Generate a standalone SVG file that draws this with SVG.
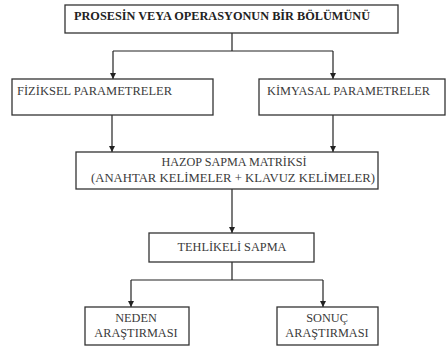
<svg xmlns="http://www.w3.org/2000/svg" width="446" height="347" viewBox="0 0 446 347">
  <defs>
    <marker id="arrow" viewBox="0 0 8 8" refX="8" refY="4" markerWidth="6" markerHeight="6" markerUnits="userSpaceOnUse" orient="auto">
      <path d="M0,0 L8,4 L0,8 z" fill="#222"/>
    </marker>
    <style>
      .box { fill: #fff; stroke: #333; stroke-width: 1.3; }
      text { font-family: 'Liberation Serif', serif; font-size: 12.3px; fill: #3a3a3a; }
      .bold { font-weight: bold; fill: #222; }
      .mid { text-anchor: middle; }
      .wire { fill: none; stroke: #222; stroke-width: 1.2; }
    </style>
  </defs>
  <rect width="446" height="347" fill="#fff"/>

  <g id="connectors">
    <path class="wire" d="M232,33 V51 M113,51 H333"/>
    <path class="wire" d="M113,51 V79" marker-end="url(#arrow)"/>
    <path class="wire" d="M333,51 V79" marker-end="url(#arrow)"/>
    <path class="wire" d="M112,115 V152" marker-end="url(#arrow)"/>
    <path class="wire" d="M333,115 V152" marker-end="url(#arrow)"/>
    <path class="wire" d="M232,189 V233" marker-end="url(#arrow)"/>
    <path class="wire" d="M232,262 V280 M131,280 H323"/>
    <path class="wire" d="M131,280 V307" marker-end="url(#arrow)"/>
    <path class="wire" d="M323,280 V307" marker-end="url(#arrow)"/>
  </g>

  <g id="process">
    <rect class="box" x="65" y="5" width="333" height="28"/>
    <text class="bold" x="74" y="20" textLength="296" lengthAdjust="spacingAndGlyphs">PROSESİN VEYA OPERASYONUN BİR BÖLÜMÜNÜ</text>
  </g>

  <g id="physical">
    <rect class="box" x="12" y="79" width="201" height="36"/>
    <text x="17" y="95" textLength="155" lengthAdjust="spacingAndGlyphs">FİZİKSEL PARAMETRELER</text>
  </g>

  <g id="chemical">
    <rect class="box" x="259" y="79" width="186" height="36"/>
    <text x="267" y="95" textLength="163" lengthAdjust="spacingAndGlyphs">KİMYASAL PARAMETRELER</text>
  </g>

  <g id="hazop">
    <rect class="box" x="76" y="152" width="302" height="37"/>
    <text class="mid" x="234" y="166" textLength="145" lengthAdjust="spacingAndGlyphs">HAZOP SAPMA MATRİKSİ</text>
    <text class="mid" x="233" y="182" textLength="284" lengthAdjust="spacingAndGlyphs">(ANAHTAR KELİMELER + KLAVUZ KELİMELER)</text>
  </g>

  <g id="hazard">
    <rect class="box" x="149" y="233" width="165" height="29"/>
    <text class="mid" x="232" y="251">TEHLİKELİ SAPMA</text>
  </g>

  <g id="cause">
    <rect class="box" x="85" y="307" width="104" height="38"/>
    <text class="mid" x="136" y="322">NEDEN</text>
    <text class="mid" x="136" y="337">ARAŞTIRMASI</text>
  </g>

  <g id="effect">
    <rect class="box" x="277" y="307" width="101" height="38"/>
    <text class="mid" x="327" y="322">SONUÇ</text>
    <text class="mid" x="327" y="337">ARAŞTIRMASI</text>
  </g>
</svg>
